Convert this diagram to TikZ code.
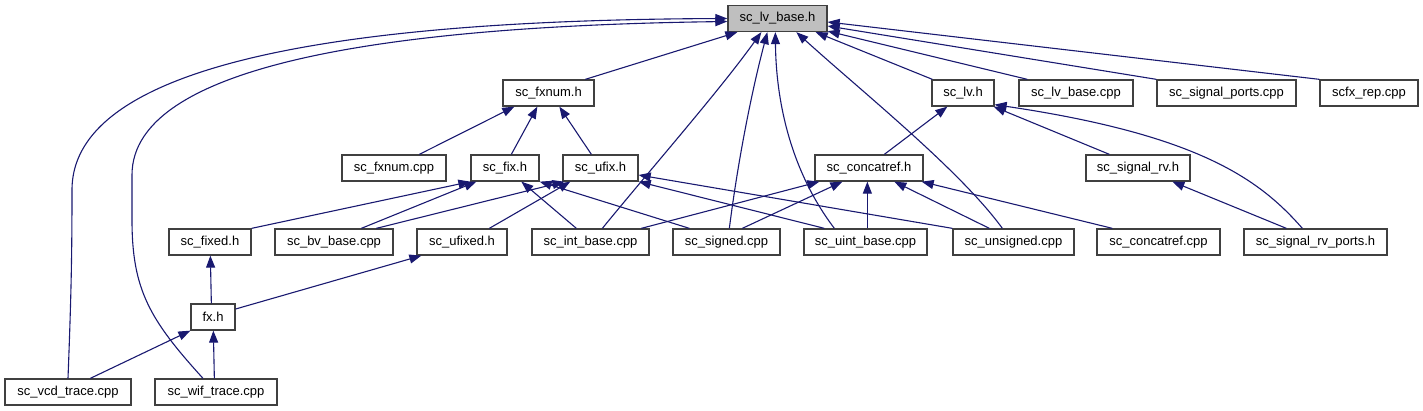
\documentclass[tikz,border=0pt]{standalone}
\usepackage{fontspec}
\setmainfont{Liberation Sans}
\usetikzlibrary{arrows.meta}
\definecolor{edgecol}{HTML}{191970}
\definecolor{boxline}{HTML}{404040}
\definecolor{rootfill}{HTML}{BFBFBF}
\begin{document}
\begin{tikzpicture}[x=1pt,y=-1pt,
  box/.style={draw=boxline,line width=1.3pt,fill=white,minimum height=26pt,inner sep=0pt,
    font=\fontsize{13}{15}\selectfont},
  edge/.style={draw=edgecol,line width=1.1pt,-{Triangle[length=12pt,width=9pt]}}]
\useasboundingbox (0,0) rectangle (1423,411);
% nodes
\node[box,fill=rootfill,minimum width=99pt] (lvbase) at (777.5,18.5) {sc\_lv\_base.h};
\node[box,minimum width=91pt] (fxnumh) at (548.5,93) {sc\_fxnum.h};
\node[box,minimum width=62pt] (lvh) at (963,93) {sc\_lv.h};
\node[box,minimum width=114pt] (lvbasecpp) at (1076,93) {sc\_lv\_base.cpp};
\node[box,minimum width=139pt] (sigports) at (1226.5,93) {sc\_signal\_ports.cpp};
\node[box,minimum width=98pt] (scfxrep) at (1369,93) {scfx\_rep.cpp};
\node[box,minimum width=104pt] (fxnumcpp) at (394,168) {sc\_fxnum.cpp};
\node[box,minimum width=68pt] (fixh) at (505,168) {sc\_fix.h};
\node[box,minimum width=75pt] (ufixh) at (600.5,168) {sc\_ufix.h};
\node[box,minimum width=108pt] (concatrefh) at (869,168) {sc\_concatref.h};
\node[box,minimum width=104pt] (signalrvh) at (1138,168) {sc\_signal\_rv.h};
\node[box,minimum width=82pt] (fixedh) at (210,242) {sc\_fixed.h};
\node[box,minimum width=118pt] (bvbase) at (334,242) {sc\_bv\_base.cpp};
\node[box,minimum width=90pt] (ufixedh) at (462,242) {sc\_ufixed.h};
\node[box,minimum width=117pt] (intbase) at (590.5,242) {sc\_int\_base.cpp};
\node[box,minimum width=107pt] (signed) at (726.5,242) {sc\_signed.cpp};
\node[box,minimum width=123pt] (uintbase) at (865.5,242) {sc\_uint\_base.cpp};
\node[box,minimum width=121pt] (unsigned) at (1013.5,242) {sc\_unsigned.cpp};
\node[box,minimum width=123pt] (concatrefcpp) at (1158.5,242) {sc\_concatref.cpp};
\node[box,minimum width=143pt] (sigrvports) at (1315.5,242) {sc\_signal\_rv\_ports.h};
\node[box,minimum width=44pt] (fxh) at (213,317) {fx.h};
\node[box,minimum width=126pt] (vcd) at (68,392) {sc\_vcd\_trace.cpp};
\node[box,minimum width=122pt] (wif) at (216,392) {sc\_wif\_trace.cpp};
% edges into sc_lv_base.h
\draw[edge] ([xshift=83pt]fxnumh.north west) -- ([xshift=10pt]lvbase.south west);
\draw[edge] (vcd.north) .. controls (71,300) and (72,260) .. (72,190)
  .. controls (72,55) and (380,20) .. ([yshift=0pt]lvbase.west);
\draw[edge] ([xshift=-13pt]wif.north) .. controls (150,320) and (132,290) .. (132,220)
  -- (132,175) .. controls (132,62) and (400,26) .. ([yshift=-3pt]lvbase.west);
\draw[edge] ([xshift=71pt]intbase.north west) .. controls (650,170) and (720,90) .. ([xshift=34pt]lvbase.south west);
\draw[edge] ([xshift=57pt]signed.north west) .. controls (738,160) and (752,90) .. ([xshift=40pt]lvbase.south west);
\draw[edge] ([xshift=31pt]uintbase.north west) .. controls (790,170) and (776,100) .. ([xshift=48pt]lvbase.south west);
\draw[edge] ([xshift=50pt]unsigned.north west) .. controls (960,170) and (860,90) .. ([xshift=69pt]lvbase.south west);
\draw[edge] ([xshift=1pt]lvh.north west) -- ([xshift=-12pt]lvbase.south east);
\draw[edge] ([xshift=9pt]lvbasecpp.north west) -- ([yshift=1pt]lvbase.south east);
\draw[edge] (sigports.north west) -- ([yshift=-7.5pt]lvbase.east);
\draw[edge] (scfxrep.north west) -- ([yshift=-3.5pt]lvbase.east);
% into sc_fxnum.h
\draw[edge] ([xshift=78pt]fxnumcpp.north west) -- ([xshift=12pt]fxnumh.south west);
\draw[edge] ([xshift=41pt]fixh.north west) -- ([xshift=35pt]fxnumh.south west);
\draw[edge] ([xshift=29pt]ufixh.north west) -- ([xshift=57pt]fxnumh.south west);
% into sc_fix.h
\draw[edge] (fixedh.north east) -- (fixh.south west);
\draw[edge] ([xshift=87pt]bvbase.north west) -- ([xshift=6pt]fixh.south west);
\draw[edge] ([xshift=45pt]intbase.north west) -- ([xshift=51pt]fixh.south west);
\draw[edge] ([xshift=17pt]signed.north west) -- (fixh.south east);
% into sc_ufix.h
\draw[edge] ([xshift=102pt]bvbase.north west) -- ([xshift=2pt]ufixh.south west);
\draw[edge] ([xshift=73pt]ufixedh.north west) -- ([xshift=8pt]ufixh.south west);
\draw[edge] ([xshift=21pt]uintbase.north west) -- (ufixh.south east);
\draw[edge] (unsigned.north west) -- ([yshift=-7pt]ufixh.east);
% into sc_concatref.h
\draw[edge] ([xshift=110pt]intbase.north west) -- ([xshift=5pt]concatrefh.south west);
\draw[edge] ([xshift=70pt]signed.north west) -- ([xshift=28pt]concatrefh.south west);
\draw[edge] ([xshift=64pt]uintbase.north west) -- ([xshift=53pt]concatrefh.south west);
\draw[edge] ([xshift=37pt]unsigned.north west) -- ([xshift=80pt]concatrefh.south west);
\draw[edge] ([xshift=16pt]concatrefcpp.north west) -- ([xshift=-2pt]concatrefh.south east);
% into sc_lv.h
\draw[edge] ([xshift=70pt]concatrefh.north west) -- ([xshift=16pt]lvh.south west);
\draw[edge] ([xshift=24pt]signalrvh.north west) -- ([xshift=-1pt]lvh.south east);
\draw[edge] ([xshift=59pt]sigrvports.north west) .. controls (1260,180) and (1200,135) .. ([yshift=2pt]lvh.south east);
% into sc_signal_rv.h
\draw[edge] ([xshift=43pt]sigrvports.north west) -- ([xshift=87pt]signalrvh.south west);
% into sc_fixed.h / sc_ufixed.h
\draw[edge] ([xshift=21pt]fxh.north west) -- ([xshift=42pt]fixedh.south west);
\draw[edge] ([yshift=8pt]fxh.east) -- ([xshift=5pt]ufixedh.south west);
% into fx.h
\draw[edge] ([xshift=86pt]vcd.north west) -- (fxh.south west);
\draw[edge] ([xshift=60pt]wif.north west) -- ([xshift=23pt]fxh.south west);
\end{tikzpicture}
\end{document}
